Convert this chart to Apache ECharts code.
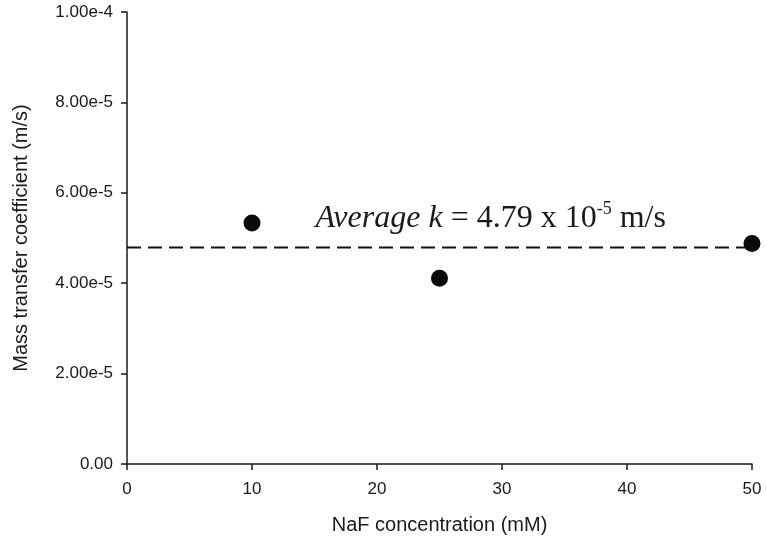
<!DOCTYPE html>
<html>
<head>
<meta charset="utf-8">
<script src="https://cdn.jsdelivr.net/npm/echarts@6/dist/echarts.min.js"></script>
<style>html,body{margin:0;padding:0;background:#fff}#c{width:766px;height:547px}</style>
</head>
<body>
<div id="c"></div>
<script>
var concentrations = [10, 25, 50];
var kValues = [5.33e-5, 4.11e-5, 4.88e-5];
var averageK = 4.79e-5;
var averageRange = [0, 50];
var xTicks = [0, 10, 20, 30, 40, 50];
var yTicks = [0, 2e-5, 4e-5, 6e-5, 8e-5, 1e-4];
var xName = 'NaF concentration (mM)';
var yName = 'Mass transfer coefficient (m/s)';
var annotationPos = [29.1, 5.44e-5];

var chart = echarts.init(document.getElementById('c'));
var axisCol = '#1a1a1a';
chart.setOption({
  animation: false,
  backgroundColor: '#fff',
  grid: {left: 127, right: 14, top: 12, bottom: 83},
  xAxis: {
    type: 'value', min: xTicks[0], max: xTicks[xTicks.length-1], interval: 10,
    name: xName, nameLocation: 'middle', nameGap: 51,
    nameTextStyle: {fontFamily: 'Liberation Sans', fontSize: 20, color: '#1a1a1a'},
    axisLine: {onZero: false, lineStyle: {color: axisCol, width: 1.5}},
    axisTick: {show: true, inside: false, length: 6, lineStyle: {color: axisCol, width: 1.5}},
    axisLabel: {fontFamily: 'Liberation Sans', fontSize: 17, color: '#1a1a1a', margin: 17},
    splitLine: {show: false}
  },
  yAxis: {
    type: 'value', min: yTicks[0], max: yTicks[yTicks.length-1], interval: 2e-5,
    name: yName, nameLocation: 'middle', nameGap: 96,
    nameTextStyle: {fontFamily: 'Liberation Sans', fontSize: 20, color: '#1a1a1a'},
    axisLine: {show: true, onZero: false, lineStyle: {color: axisCol, width: 1.5}},
    axisTick: {show: true, inside: false, length: 6, lineStyle: {color: axisCol, width: 1.5}},
    axisLabel: {fontFamily: 'Liberation Sans', fontSize: 17, color: '#1a1a1a', margin: 14,
      formatter: function (v) { return v === 0 ? '0.00' : v.toExponential(2); }},
    splitLine: {show: false}
  },
  series: [
    {
      type: 'line',
      data: averageRange.map(function (x) { return [x, averageK]; }),
      symbol: 'none',
      lineStyle: {color: '#111', width: 2, type: [14, 7]},
      z: 2
    },
    {
      type: 'scatter',
      data: concentrations.map(function (x, i) { return [x, kValues[i]]; }),
      symbol: 'circle', symbolSize: 17,
      itemStyle: {color: '#0a0a0a', opacity: 1},
      clip: false,
      z: 3,
      markPoint: {
        symbol: 'circle', symbolSize: 0,
        data: [{coord: annotationPos}],
        label: {
          show: true, position: 'inside',
          formatter: '{i|Average k}{n| = 4.79 x 10}{s|-5}{n| m/s}',
          rich: {
            i: {fontFamily: 'Liberation Serif', fontStyle: 'italic', fontSize: 32, color: '#1a1a1a', lineHeight: 36},
            n: {fontFamily: 'Liberation Serif', fontSize: 32, color: '#1a1a1a', lineHeight: 36},
            s: {fontFamily: 'Liberation Serif', fontSize: 18, color: '#1a1a1a', lineHeight: 36, verticalAlign: 'top'}
          }
        }
      }
    }
  ]
});
</script>
</body>
</html>
